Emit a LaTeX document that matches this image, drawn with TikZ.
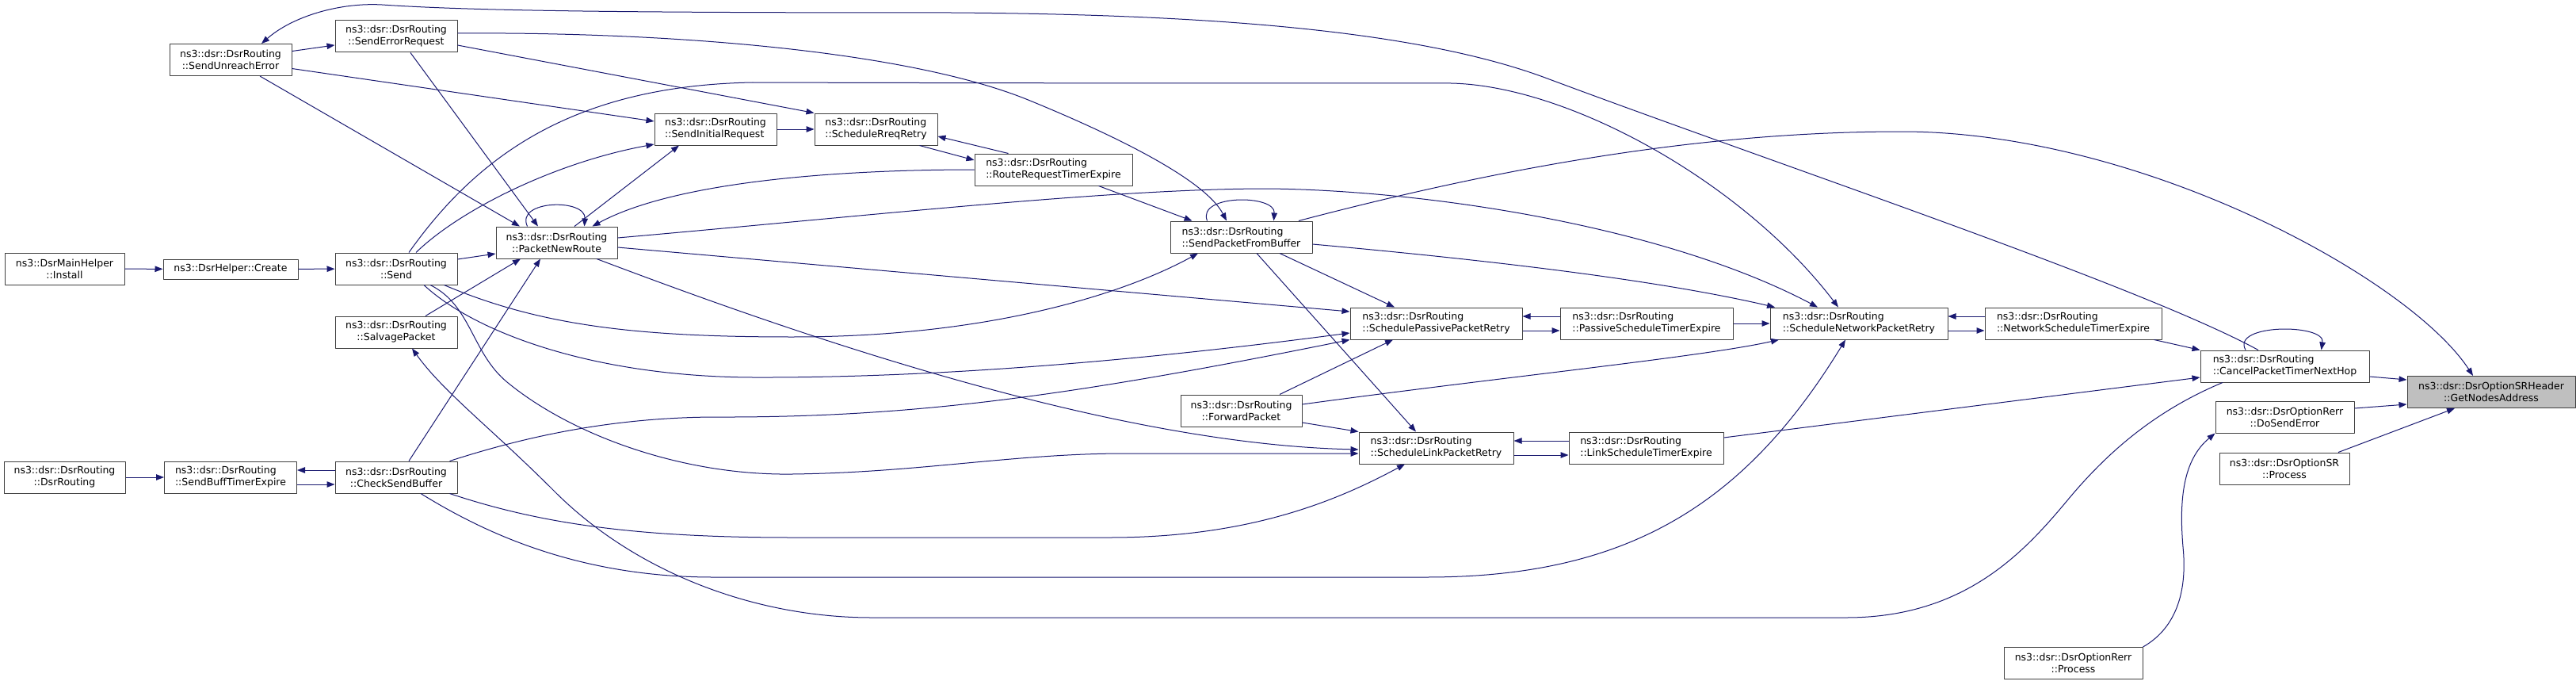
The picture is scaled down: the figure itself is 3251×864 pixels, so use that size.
\documentclass[tikz,border=0pt]{standalone}
\usepackage{fontspec}
\setmainfont{DejaVu Sans}
\usepackage{xcolor}
\usepackage{tikz}
\usetikzlibrary{arrows.meta}
\definecolor{edgeblue}{HTML}{191970}
\definecolor{boxline}{HTML}{404040}
\definecolor{hilite}{HTML}{BFBFBF}
\tikzset{
  FuncBox/.style={
    draw=boxline, line width=1pt, fill=white,
    minimum height=40pt, inner xsep=0pt, inner ysep=0pt,
    font=\fontsize{12.5}{15}\selectfont
  },
  FuncLeft/.style={FuncBox, align=left},
  FuncMid/.style={FuncBox, align=center},
  CallEdge/.style={
    draw=edgeblue, line width=1pt,
    -{Triangle[length=10pt,width=7.5pt]}
  }
}

\begin{document}
\begin{tikzpicture}[x=1pt, y=-1pt, line join=round]
  \useasboundingbox (0,0) rectangle (3251,864);

  % Callers, left ranks
  \node[FuncMid, minimum width=151pt] (install) at (81.5,339) {ns3::DsrMainHelper\\::Install};
  \node[FuncMid, minimum width=153pt] (ctor) at (81.5,602) {ns3::dsr::DsrRouting\\::DsrRouting};
  \node[FuncMid, minimum width=170pt, minimum height=25pt] (create) at (291,339.5) {ns3::DsrHelper::Create};
  \node[FuncMid, minimum width=154pt] (unreach) at (291,75.5) {ns3::dsr::DsrRouting\\::SendUnreachError};
  \node[FuncLeft, minimum width=167pt] (buffexp) at (291,602) {ns3::dsr::DsrRouting\\::SendBuffTimerExpire};
  \node[FuncMid, minimum width=154pt] (errreq) at (500,46) {ns3::dsr::DsrRouting\\::SendErrorRequest};
  \node[FuncMid, minimum width=154pt] (send) at (500,339) {ns3::dsr::DsrRouting\\::Send};
  \node[FuncMid, minimum width=154pt] (salvage) at (500,419) {ns3::dsr::DsrRouting\\::SalvagePacket};
  \node[FuncMid, minimum width=154pt] (checkbuf) at (500,602) {ns3::dsr::DsrRouting\\::CheckSendBuffer};
  \node[FuncMid, minimum width=153pt] (newroute) at (702.5,306) {ns3::dsr::DsrRouting\\::PacketNewRoute};
  \node[FuncLeft, minimum width=154pt] (initreq) at (903,163) {ns3::dsr::DsrRouting\\::SendInitialRequest};
  \node[FuncLeft, minimum width=155pt] (rreqretry) at (1105.5,163) {ns3::dsr::DsrRouting\\::ScheduleRreqRetry};
  \node[FuncLeft, minimum width=199pt] (rreqexp) at (1329.5,214) {ns3::dsr::DsrRouting\\::RouteRequestTimerExpire};

  % Middle ranks
  \node[FuncLeft, minimum width=179pt] (frombuf) at (1566.5,299) {ns3::dsr::DsrRouting\\::SendPacketFromBuffer};
  \node[FuncMid, minimum width=153pt] (forward) at (1566.5,518) {ns3::dsr::DsrRouting\\::ForwardPacket};
  \node[FuncLeft, minimum width=217pt] (passive) at (1812.5,408) {ns3::dsr::DsrRouting\\::SchedulePassivePacketRetry};
  \node[FuncLeft, minimum width=195pt] (link) at (1812.5,565) {ns3::dsr::DsrRouting\\::ScheduleLinkPacketRetry};
  \node[FuncLeft, minimum width=218pt] (passexp) at (2078,408) {ns3::dsr::DsrRouting\\::PassiveScheduleTimerExpire};
  \node[FuncLeft, minimum width=195pt] (linkexp) at (2077.5,565) {ns3::dsr::DsrRouting\\::LinkScheduleTimerExpire};
  \node[FuncLeft, minimum width=224pt] (network) at (2346,408) {ns3::dsr::DsrRouting\\::ScheduleNetworkPacketRetry};
  \node[FuncLeft, minimum width=223pt] (netexp) at (2616.5,408) {ns3::dsr::DsrRouting\\::NetworkScheduleTimerExpire};
  \node[FuncMid, minimum width=175pt] (rerrproc) at (2616.5,836.5) {ns3::dsr::DsrOptionRerr\\::Process};

  % Right ranks
  \node[FuncLeft, minimum width=213pt] (cancel) at (2883.5,462) {ns3::dsr::DsrRouting\\::CancelPacketTimerNextHop};
  \node[FuncMid, minimum width=175pt] (dosend) at (2883.5,526) {ns3::dsr::DsrOptionRerr\\::DoSendError};
  \node[FuncMid, minimum width=164pt] (srproc) at (2883,591) {ns3::dsr::DsrOptionSR\\::Process};
  \node[FuncMid, fill=hilite, minimum width=212pt] (target) at (3144,494.5) {ns3::dsr::DsrOptionSRHeader\\::GetNodesAddress};

  % left chain
  \draw[CallEdge] (install) -- (create);
  \draw[CallEdge] (create) -- (send);
  \draw[CallEdge] (ctor) -- (buffexp);
  \draw[CallEdge] ([yshift=-9pt]buffexp.east) -- ([yshift=-9pt]checkbuf.west);
  \draw[CallEdge] ([yshift=9pt]checkbuf.west) -- ([yshift=9pt]buffexp.east);

  % SendUnreachError
  \draw[CallEdge] ([xshift=-33.5pt]cancel.north) .. controls (2700,360) and (2250,210) .. (1950,98)
    .. controls (1780,35) and (1500,18) .. (1200,16) .. controls (800,16) and (600,14) .. (482,6)
    .. controls (430,3) and (370,20) .. ([xshift=39pt]unreach.north);
  \draw[CallEdge] (unreach) -- (errreq);
  \draw[CallEdge] ([xshift=37pt]unreach.south) -- ([xshift=-46.5pt]newroute.north);
  \draw[CallEdge] ([yshift=-11pt]unreach.east) -- ([yshift=10pt]initreq.west);

  % SendErrorRequest
  \draw[CallEdge] ([yshift=4pt]errreq.east) .. controls (850,40) and (1150,65) .. (1300,127)
    .. controls (1400,168) and (1520,225) .. ([xshift=-18.5pt]frombuf.north);
  \draw[CallEdge] ([yshift=-11pt]errreq.east) -- (rreqretry.north west);
  \draw[CallEdge] ([xshift=18pt]errreq.south) -- ([xshift=-23.5pt]newroute.north);

  % Send
  \draw[CallEdge] ([yshift=12pt]send.east) -- ([yshift=-14pt]newroute.west);
  \draw[CallEdge] ([xshift=25pt]send.north) .. controls (580,265) and (700,205) .. ([yshift=-19pt]initreq.west);
  \draw[CallEdge] ([xshift=16pt]send.north) .. controls (600,200) and (720,108) .. (950,104)
    .. controls (1300,105) and (1600,105) .. (1831,105) .. controls (1980,108) and (2200,230) .. ([xshift=-26pt]network.north);
  \draw[CallEdge] ([xshift=-17pt]send.south east) .. controls (680,410) and (800,425) .. (1000,425)
    .. controls (1250,425) and (1420,370) .. ([xshift=-54.5pt]frombuf.south);
  \draw[CallEdge] ([xshift=35pt]send.south) .. controls (600,420) and (750,475) .. (950,476)
    .. controls (1250,477) and (1550,440) .. ([yshift=-12pt]passive.west);
  \draw[CallEdge] ([xshift=43pt]send.south) .. controls (595,385) and (595,445) .. (640,482)
    .. controls (720,548) and (860,600) .. (1000,598) .. controls (1160,596) and (1280,572) .. (1420,572)
    -- ([yshift=-7pt]link.west);

  % SalvagePacket and CheckSendBuffer
  \draw[CallEdge] ([xshift=37pt]salvage.north) -- ([xshift=-45.5pt]newroute.south);
  \draw[CallEdge] ([xshift=-78.5pt]cancel.south) .. controls (2720,518) and (2660,570) .. (2610,630)
    .. controls (2555,696) and (2480,779) .. (2330,779) -- (1100,779)
    .. controls (950,779) and (800,720) .. (700,620) .. controls (620,540) and (560,495) .. ([xshift=20pt]salvage.south);
  \draw[CallEdge] ([xshift=16pt]checkbuf.north) -- ([xshift=-20.5pt]newroute.south);
  \draw[CallEdge] ([xshift=-10pt]checkbuf.north east) .. controls (650,555) and (760,527) .. (900,526)
    .. controls (1150,527) and (1350,500) .. (passive.south west);
  \draw[CallEdge] ([xshift=-10pt]checkbuf.south east) .. controls (680,660) and (800,678) .. (1000,678)
    -- (1400,678) .. controls (1580,678) and (1690,630) .. ([xshift=-39.5pt]link.south);
  \draw[CallEdge] ([xshift=31pt]checkbuf.south) .. controls (600,665) and (720,728) .. (900,728)
    -- (1800,728) .. controls (2050,728) and (2200,640) .. ([xshift=-17pt]network.south);

  % PacketNewRoute
  \draw[CallEdge] ([xshift=-37pt]newroute.north) .. controls (650,252) and (740,250) .. ([xshift=35pt]newroute.north);
  \draw[CallEdge] ([xshift=22.5pt]newroute.north) -- ([xshift=-46pt]initreq.south);
  \draw[CallEdge] ([yshift=6pt]newroute.east) .. controls (1100,272) and (1400,238) .. (1600,238)
    .. controls (1800,240) and (2100,285) .. ([xshift=-52pt]network.north);
  \draw[CallEdge] ([yshift=-6pt]newroute.east) -- ([yshift=15pt]passive.west);
  \draw[CallEdge] ([xshift=50.5pt]newroute.south) .. controls (1000,420) and (1400,560) .. ([yshift=-2pt]link.west);

  % route request
  \draw[CallEdge] (initreq) -- (rreqretry);
  \draw[CallEdge] ([xshift=55pt]rreqretry.south) -- ([yshift=12pt]rreqexp.west);
  \draw[CallEdge] ([xshift=-57pt]rreqexp.north) -- ([yshift=-9pt]rreqretry.east);
  \draw[CallEdge] (rreqexp.west) .. controls (1050,214) and (850,230) .. ([xshift=45pt]newroute.north);
  \draw[CallEdge] ([xshift=57pt]rreqexp.south) -- ([xshift=-62pt]frombuf.north);

  % SendPacketFromBuffer
  \draw[CallEdge] ([xshift=-43pt]frombuf.north) .. controls (1510,245) and (1610,245) .. ([xshift=41pt]frombuf.north);
  \draw[CallEdge] ([xshift=72.5pt]frombuf.north) .. controls (1900,210) and (2150,166) .. (2400,166)
    .. controls (2700,166) and (3040,350) .. ([xshift=-23pt]target.north);
  \draw[CallEdge] ([yshift=-9pt]frombuf.east) .. controls (1900,330) and (2100,355) .. ([xshift=-106pt]network.north);
  \draw[CallEdge] ([xshift=48.5pt]frombuf.south) -- ([xshift=-52.5pt]passive.north);
  \draw[CallEdge] ([xshift=19.5pt]frombuf.south) -- ([xshift=-25.5pt]link.north);

  % ForwardPacket
  \draw[CallEdge] ([xshift=48.5pt]forward.north) -- ([xshift=-54.5pt]passive.south);
  \draw[CallEdge] ([yshift=-15pt]forward.east) -- (link.north west);
  \draw[CallEdge] ([yshift=8pt]forward.east) .. controls (1900,475) and (2150,450) .. ([xshift=-101pt]network.south);

  % timers
  \draw[CallEdge] ([yshift=-9pt]passive.east) -- ([yshift=-9pt]passexp.west);
  \draw[CallEdge] ([yshift=9pt]passexp.west) -- ([yshift=9pt]passive.east);
  \draw[CallEdge] (passexp) -- (network);
  \draw[CallEdge] ([yshift=-9pt]link.east) -- ([yshift=-9pt]linkexp.west);
  \draw[CallEdge] ([yshift=9pt]linkexp.west) -- ([yshift=9pt]link.east);
  \draw[CallEdge] ([yshift=13pt]linkexp.east) -- ([yshift=-14pt]cancel.west);
  \draw[CallEdge] ([yshift=-9pt]network.east) -- ([yshift=-9pt]netexp.west);
  \draw[CallEdge] ([yshift=9pt]netexp.west) -- ([yshift=9pt]network.east);
  \draw[CallEdge] ([xshift=102pt]netexp.south) -- (cancel.north west);

  % CancelPacketTimerNextHop and the target
  \draw[CallEdge] ([xshift=-49.5pt]cancel.north) .. controls (2815,408) and (2935,408) .. ([xshift=46pt]cancel.north);
  \draw[CallEdge] ([yshift=-13pt]cancel.east) -- ([yshift=15.5pt]target.west);
  \draw[CallEdge] ([yshift=11pt]dosend.east) -- ([yshift=-15.5pt]target.west);
  \draw[CallEdge] ([xshift=68pt]srproc.north) -- ([xshift=-46pt]target.south);
  \draw[CallEdge] (rerrproc.north east) .. controls (2750,790) and (2760,740) .. (2755,690)
    .. controls (2750,630) and (2755,580) .. (dosend.south west);
\end{tikzpicture}
\end{document}
